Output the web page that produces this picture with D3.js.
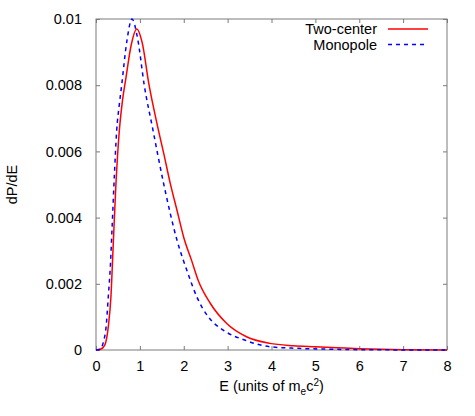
<!doctype html>
<html lang="en">
  <head>
    <meta charset="UTF-8" />
    <title>dP/dE spectrum</title>
    <script src="https://d3js.org/d3.v7.min.js"></script>
    <style>
      body {
        margin: 0;
        padding: 0;
        background: #ffffff;
      }
      svg text {
        font-family: 'Liberation Sans', Arial, sans-serif;
        font-size: 14.5px;
        fill: #000;
      }
    </style>
  </head>
  <body>
    <div id="chart"></div>
    <script>
      // Energy grid points (units of m_e c^2) and dP/dE values
      const twoCenterE = [0, 0.1, 0.2, 0.28, 0.34, 0.39, 0.45, 0.53, 0.6, 0.68, 0.8, 0.93, 1.05, 1.21, 1.38, 1.55, 1.69, 1.85, 2.0, 2.18, 2.33, 2.6, 2.98, 3.43, 3.96, 4.5, 5.0, 5.5, 6.0, 6.5, 7.0, 8.0]
      const twoCenterP = [0, 0.00002, 0.00015, 0.0007, 0.0016, 0.0031, 0.0049, 0.0066, 0.0075, 0.0082, 0.0092, 0.0097, 0.0093, 0.008, 0.0069, 0.0059, 0.00505, 0.0042, 0.0034, 0.0027, 0.0021, 0.00142, 0.0008, 0.0004, 0.0002, 0.00013, 0.0001, 0.00007, 0.00004, 0.00002, 0.00001, 0]

      const monopoleE = [0, 0.1, 0.17, 0.23, 0.28, 0.33, 0.37, 0.42, 0.47, 0.53, 0.585, 0.7, 0.82, 0.95, 1.1, 1.29, 1.53, 1.85, 2.1, 2.3, 2.56, 2.9, 3.39, 3.96, 4.6, 5.5, 6.5, 8.0]
      const monopoleP = [0, 0.00003, 0.00025, 0.0007, 0.0016, 0.0026, 0.0038, 0.0053, 0.0066, 0.0074, 0.008, 0.0093, 0.01, 0.0094, 0.008, 0.0067, 0.0051, 0.0033, 0.0023, 0.0016, 0.001, 0.0006, 0.0003, 0.0001, 0.00005, 0.00002, 0.000005, 0]

      const xTicks = [0, 1, 2, 3, 4, 5, 6, 7, 8]
      const yTicks = [0, 0.002, 0.004, 0.006, 0.008, 0.01]
      const yTickLabels = ['0', '0.002', '0.004', '0.006', '0.008', '0.01']

      const width = 475
      const height = 416
      const margin = { top: 19, right: 28, bottom: 66, left: 96 }
      const innerW = width - margin.left - margin.right
      const innerH = height - margin.top - margin.bottom

      const svg = d3
        .select('#chart')
        .append('svg')
        .attr('width', width)
        .attr('height', height)

      const g = svg.append('g').attr('transform', `translate(${margin.left}, ${margin.top})`)

      const x = d3.scaleLinear().domain([0, 8]).range([0, innerW])
      const y = d3.scaleLinear().domain([0, 0.01]).range([innerH, 0])

      const frameColor = '#7a7a7a'
      const tickLen = 4

      // inward ticks on all four sides (mirrored)
      const axisStyle = (sel) => {
        sel.select('.domain').remove()
        sel.selectAll('.tick line').attr('stroke', frameColor).attr('stroke-width', 1)
      }

      g.append('g')
        .attr('transform', `translate(0, ${innerH})`)
        .call(d3.axisBottom(x).tickValues(xTicks).tickSize(-tickLen).tickPadding(9).tickFormat(d3.format('d')))
        .call(axisStyle)
        .call((s) => s.selectAll('.tick text').attr('font-size', null).attr('font-family', null).attr('dy', '0.85em'))

      g.append('g')
        .call(d3.axisTop(x).tickValues(xTicks).tickSize(-tickLen).tickFormat(''))
        .call(axisStyle)

      g.append('g')
        .call(
          d3
            .axisLeft(y)
            .tickValues(yTicks)
            .tickSize(-tickLen)
            .tickPadding(14)
            .tickFormat((d, i) => yTickLabels[i])
        )
        .call(axisStyle)
        .call((s) => s.selectAll('.tick text').attr('font-size', null).attr('font-family', null))

      g.append('g')
        .attr('transform', `translate(${innerW}, 0)`)
        .call(d3.axisRight(y).tickValues(yTicks).tickSize(-tickLen).tickFormat(''))
        .call(axisStyle)

      // frame
      g.append('rect')
        .attr('x', 0)
        .attr('y', 0)
        .attr('width', innerW)
        .attr('height', innerH)
        .attr('fill', 'none')
        .attr('stroke', frameColor)
        .attr('stroke-width', 1)

      const line = d3
        .line()
        .x((d) => x(d[0]))
        .y((d) => y(d[1]))
        .curve(d3.curveMonotoneX)

      const twoCenter = twoCenterE.map((e, i) => [e, twoCenterP[i]])
      const monopole = monopoleE.map((e, i) => [e, monopoleP[i]])

      g.append('path')
        .datum(twoCenter)
        .attr('d', line)
        .attr('fill', 'none')
        .attr('stroke', '#ff0000')
        .attr('stroke-width', 1.5)

      g.append('path')
        .datum(monopole)
        .attr('d', line)
        .attr('fill', 'none')
        .attr('stroke', '#0000ff')
        .attr('stroke-width', 1.5)
        .attr('stroke-dasharray', '4,4')

      // legend
      const legend = [
        { label: 'Two-center', color: '#ff0000', dash: null },
        { label: 'Monopole', color: '#0000ff', dash: '4,4' },
      ]
      legend.forEach((d, i) => {
        const ly = 29 + i * 15.5
        svg
          .append('text')
          .attr('x', 377)
          .attr('y', ly)
          .attr('dy', '0.35em')
          .attr('text-anchor', 'end')
          .text(d.label)
        svg
          .append('line')
          .attr('x1', 388)
          .attr('x2', 428)
          .attr('y1', ly)
          .attr('y2', ly)
          .attr('stroke', d.color)
          .attr('stroke-width', 1.5)
          .attr('stroke-dasharray', d.dash)
      })

      // axis titles
      const xt = svg
        .append('text')
        .attr('x', margin.left + innerW / 2)
        .attr('y', 391)
        .attr('text-anchor', 'middle')
      xt.append('tspan').text('E (units of m')
      xt.append('tspan').attr('dy', 4).attr('font-size', '10px').text('e')
      xt.append('tspan').attr('dy', -4).text('c')
      xt.append('tspan').attr('dy', -5).attr('font-size', '10px').text('2')
      xt.append('tspan').attr('dy', 5).text(')')

      svg
        .append('text')
        .attr('transform', `translate(17, ${margin.top + innerH / 2}) rotate(-90)`)
        .attr('text-anchor', 'middle')
        .text('dP/dE')
    </script>
  </body>
</html>
